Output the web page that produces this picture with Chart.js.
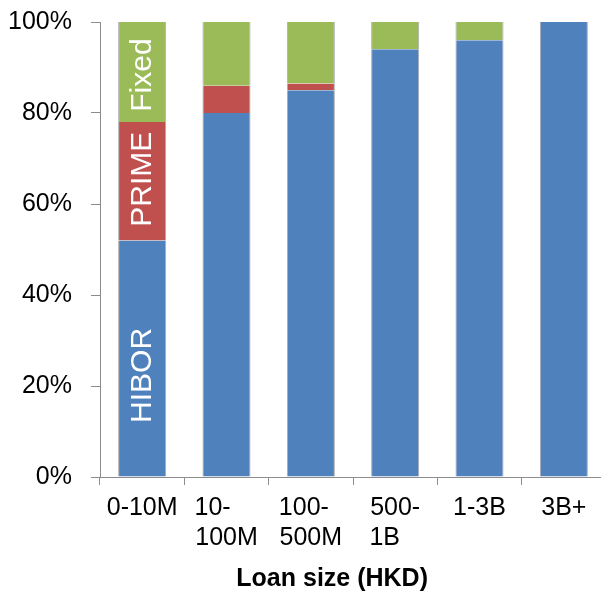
<!DOCTYPE html>
<html>
<head>
<meta charset="utf-8">
<script src="https://cdn.jsdelivr.net/npm/chart.js@4/dist/chart.umd.min.js"></script>
<style>
  html, body { margin: 0; padding: 0; background: #fff; overflow: hidden; }
  #wrap { width: 606px; height: 596px; }
</style>
</head>
<body>
<div id="wrap"><canvas id="chart"></canvas></div>
<script>
// Loan-size buckets (HKD) and share of each pricing basis, in percent
const categories = [['0-10M'], ['10-', '100M'], ['100-', '500M'], ['500-', '1B'], ['1-3B'], ['3B+']];
const hiborShare = [52, 80, 85, 94, 96, 100];
const primeShare = [26, 6, 1.5, 0, 0, 0];
const fixedShare = [22, 14, 13.5, 6, 4, 0];
const yTicks = [0, 20, 40, 60, 80, 100];
const axisTitle = 'Loan size (HKD)';

const FONT = '"Liberation Sans", Arial, sans-serif';
const TICK_SIZE = 25;
const edge = 'rgba(150,150,150,0.8)';

// Pads the shorter lines of a wrapped label with spaces so the lines read left-aligned
const measureCtx = document.createElement('canvas').getContext('2d');
measureCtx.font = TICK_SIZE + 'px ' + FONT;
function leftAlignLines(lines) {
  if (!Array.isArray(lines) || lines.length < 2) return lines;
  const widest = Math.max(...lines.map(l => measureCtx.measureText(l).width));
  return lines.map(l => {
    let s = l;
    while (measureCtx.measureText(s + ' ').width <= widest + 3) s += ' ';
    return s;
  });
}

// Writes each series name vertically inside its segment of the first bar
const segmentNames = {
  id: 'segmentNames',
  afterDatasetsDraw(chart) {
    const ctx = chart.ctx;
    const nudge = [17, -2, 3];
    chart.data.datasets.forEach((ds, i) => {
      const bar = chart.getDatasetMeta(i).data[0];
      if (!bar) return;
      const cy = (bar.y + bar.base) / 2 + nudge[i];
      ctx.save();
      ctx.translate(bar.x, cy);
      ctx.rotate(-Math.PI / 2);
      ctx.font = '30px ' + FONT;
      ctx.fillStyle = '#ffffff';
      ctx.textAlign = 'center';
      ctx.textBaseline = 'middle';
      ctx.fillText(ds.label, 0, 1);
      ctx.restore();
    });
  }
};

new Chart(document.getElementById('chart'), {
  type: 'bar',
  data: {
    labels: categories,
    datasets: [
      { label: 'HIBOR', data: hiborShare, backgroundColor: '#4F81BD' },
      { label: 'PRIME', data: primeShare, backgroundColor: '#C0504D' },
      { label: 'Fixed', data: fixedShare, backgroundColor: '#9BBB59' }
    ].map(d => Object.assign(d, {
      borderColor: edge,
      borderWidth: { left: 1, right: 1, top: 0, bottom: 0 },
      borderSkipped: false,
      categoryPercentage: 1,
      barPercentage: 0.57
    }))
  },
  options: {
    responsive: true,
    maintainAspectRatio: false,
    animation: false,
    layout: { autoPadding: false, padding: { left: 0, top: 22, right: 0, bottom: 2 } },
    plugins: { legend: { display: false }, tooltip: { enabled: false } },
    scales: {
      x: {
        stacked: true,
        border: { display: true, color: '#8c8c8c', width: 1 },
        grid: { display: true, drawOnChartArea: false, drawTicks: true, tickLength: 8, color: '#8c8c8c', offset: true },
        ticks: {
          color: '#000', font: { family: FONT, size: TICK_SIZE, lineHeight: 1.2 }, padding: 8,
          maxRotation: 0, autoSkip: false,
          callback(value) { return leftAlignLines(this.getLabelForValue(value)); }
        },
        title: {
          display: true, text: axisTitle + '      ', color: '#000',
          font: { family: FONT, size: 25, weight: 'bold' }, padding: { top: 3, bottom: 0 }
        }
      },
      y: {
        stacked: true,
        min: 0,
        max: 100,
        border: { display: true, color: '#8c8c8c', width: 1 },
        grid: { display: true, drawOnChartArea: false, drawTicks: true, tickLength: 9, color: '#8c8c8c' },
        afterBuildTicks(scale) { scale.ticks = yTicks.map(v => ({ value: v })); },
        afterFit(scale) { scale.width = 100; scale.paddingTop = 0; scale.paddingBottom = 0; },
        ticks: { color: '#000', font: { family: FONT, size: TICK_SIZE }, padding: 19, callback: v => v + '%' }
      }
    }
  },
  plugins: [segmentNames]
});
</script>
</body>
</html>
